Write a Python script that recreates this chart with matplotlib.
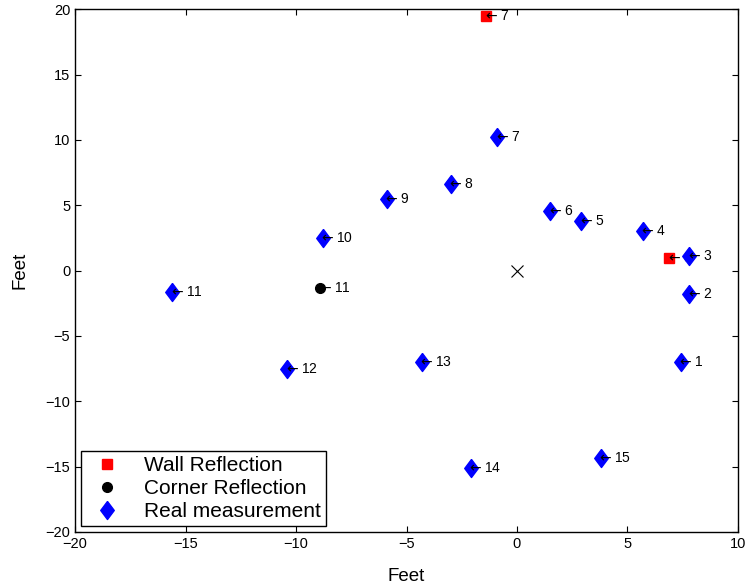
import matplotlib.pyplot as plt
import numpy as np

# real measurement positions (feet) and their labels
real_x = [7.4, 7.8, 7.8, 5.7, 2.9, 1.5, -0.9, -3.0, -5.9, -8.8, -15.6, -10.4, -4.3, -2.1, 3.8]
real_y = [-7.0, -1.8, 1.1, 3.0, 3.8, 4.6, 10.2, 6.6, 5.5, 2.5, -1.6, -7.5, -7.0, -15.1, -14.3]
real_lbl = ['1', '2', '3', '4', '5', '6', '7', '8', '9', '10', '11', '12', '13', '14', '15']

wall_x = [-1.4, 6.9]
wall_y = [19.5, 1.0]
wall_lbl = ['7', '3']

corner_x = [-8.9]
corner_y = [-1.3]
corner_lbl = ['11']

origin_x = [0]
origin_y = [0]

plt.rcParams['font.family'] = ['Liberation Sans', 'DejaVu Sans']

diamond = [(0, 1), (0.75, 0), (0, -1), (-0.75, 0), (0, 1)]


def add_labels(ax, xs, ys, lbls, z):
    for x, y, s in zip(xs, ys, lbls):
        ax.annotate(r'$\leftarrow$' + s, (x, y), xytext=(-2.5, 0), textcoords='offset points',
                    fontsize=10, ha='left', va='center', zorder=z)


def main():
    fig = plt.figure(figsize=(7.48, 5.87), dpi=100)
    ax = fig.add_axes([0.1003, 0.0937, 0.8863, 0.8905])

    ax.plot(wall_x, wall_y, 's', color='red', markersize=7, label='Wall Reflection', zorder=3)
    add_labels(ax, wall_x, wall_y, wall_lbl, 3.5)
    ax.plot(corner_x, corner_y, 'o', color='black', markersize=7, label='Corner Reflection', zorder=4)
    add_labels(ax, corner_x, corner_y, corner_lbl, 4.5)
    ax.plot(real_x, real_y, marker=diamond, linestyle='none', color='blue',
            markersize=13, label='Real measurement', zorder=5)
    add_labels(ax, real_x, real_y, real_lbl, 5.5)
    ax.plot(origin_x, origin_y, 'x', color='black', markersize=8, markeredgewidth=0.8)

    ax.set_xlim(-20, 10)
    ax.set_ylim(-20, 20)
    ax.set_xticks(np.arange(-20, 11, 5))
    ax.set_yticks(np.arange(-20, 21, 5))
    ax.tick_params(direction='in', top=True, right=True, length=4, labelsize=10.5)
    for sp in ax.spines.values():
        sp.set_linewidth(1.0)

    ax.set_xlabel('Feet', fontsize=13.5, labelpad=12)
    ax.set_ylabel('Feet', fontsize=13.5, labelpad=12)

    leg = ax.legend(loc='lower left', fontsize=15, fancybox=False, edgecolor='black',
                    framealpha=1, borderaxespad=0.3, handletextpad=0.8,
                    labelspacing=0.2, borderpad=0.22, handlelength=2.0)
    leg.get_frame().set_linewidth(1.0)
    leg.set_zorder(10)

    plt.savefig('out.png')


if __name__ == '__main__':
    main()
